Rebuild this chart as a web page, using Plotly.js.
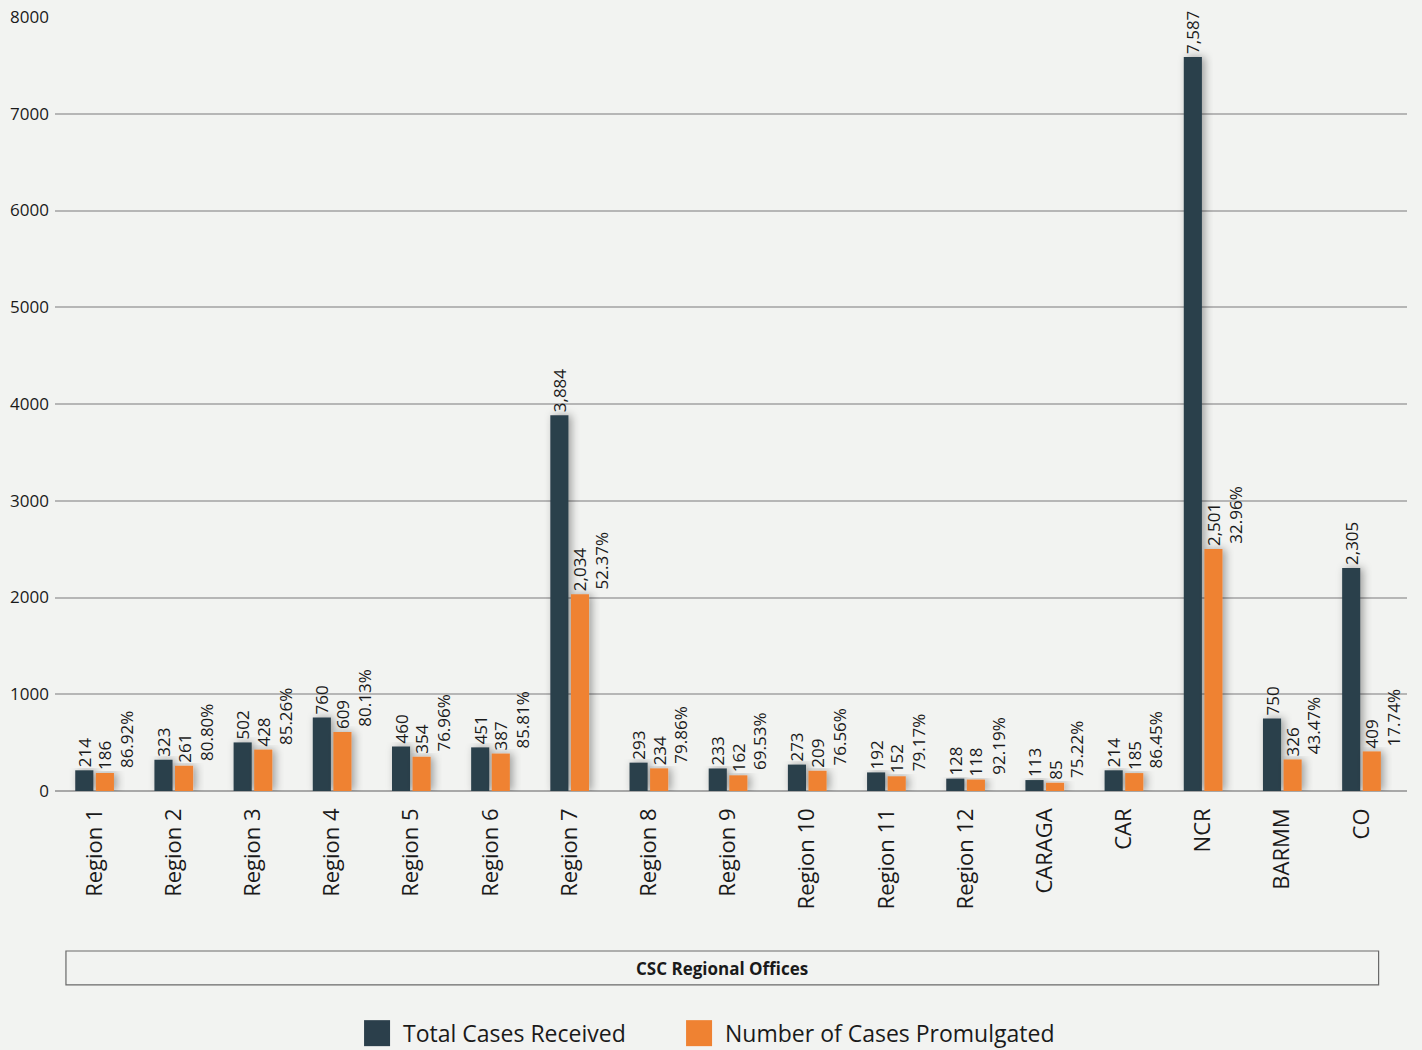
<!DOCTYPE html>
<html>
<head>
<meta charset="utf-8">
<script src="https://cdn.plot.ly/plotly-3.0.1.min.js"></script>
<style>
html,body{margin:0;padding:0;background:#f2f3f1;}
#chart{width:1422px;height:1050px;}
</style>
</head>
<body>
<div id="chart"></div>
<script>
var categories = ["Region 1","Region 2","Region 3","Region 4","Region 5","Region 6","Region 7","Region 8","Region 9","Region 10","Region 11","Region 12","CARAGA","CAR","NCR","BARMM","CO"];
var totalCases = [214,323,502,760,460,451,3884,293,233,273,192,128,113,214,7587,750,2305];
var promulgated = [186,261,428,609,354,387,2034,234,162,209,152,118,85,185,2501,326,409];
var percentLabels = ["86.92%","80.80%","85.26%","80.13%","76.96%","85.81%","52.37%","79.86%","69.53%","76.56%","79.17%","92.19%","75.22%","86.45%","32.96%","43.47%","17.74%"];
var yTicks = [0,1000,2000,3000,4000,5000,6000,7000,8000];

var FONT = "Open Sans, Noto Sans, sans-serif";
var fmt = function(v){ return v.toLocaleString("en-US"); };

var traces = [
  {
    type: "bar", name: "Total Cases Received",
    x: categories, y: totalCases,
    text: totalCases.map(fmt), textposition: "outside", textangle: -90,
    constraintext: "none", cliponaxis: false,
    textfont: {family: FONT, size: 17, color: "#1a1a1a"},
    marker: {color: "#2b3f4b"}, hoverinfo: "x+y"
  },
  {
    type: "bar", name: "Number of Cases Promulgated",
    x: categories, y: promulgated,
    text: promulgated.map(fmt), textposition: "outside", textangle: -90,
    constraintext: "none", cliponaxis: false,
    textfont: {family: FONT, size: 17, color: "#1a1a1a"},
    marker: {color: "#ef8232"}, hoverinfo: "x+y"
  }
];

var annotations = categories.map(function(c, i){
  return {
    x: c, y: promulgated[i], xref: "x", yref: "y",
    text: percentLabels[i], textangle: -90, showarrow: false,
    xanchor: "center", yanchor: "bottom", xshift: 32, yshift: 3,
    font: {family: FONT, size: 17, color: "#1a1a1a"}
  };
});
annotations.push({
  x: 0.493, y: -0.2287, xref: "paper", yref: "paper",
  text: "<b>CSC Regional Offices</b>", showarrow: false,
  xanchor: "center", yanchor: "middle",
  font: {family: FONT, size: 17, color: "#1a1a1a"}
});

var layout = {
  width: 1422, height: 1050,
  paper_bgcolor: "#f2f3f1", plot_bgcolor: "#f2f3f1",
  margin: {l: 55, r: 15, t: 17, b: 259},
  barmode: "group", bargap: 0.48, bargroupgap: 0.12,
  font: {family: FONT, color: "#1a1a1a"},
  xaxis: {
    type: "category", tickangle: -90, showgrid: false, zeroline: false,
    showline: false, ticks: "", ticklen: 0, ticklabelstandoff: 12,
    automargin: false,
    tickfont: {family: FONT, size: 22, color: "#1a1a1a"}
  },
  yaxis: {
    range: [0, 8000], tickvals: yTicks, ticktext: yTicks.map(String),
    showgrid: true, gridcolor: "#b6b6b6", gridwidth: 2,
    zeroline: true, zerolinecolor: "#a8a8a8", zerolinewidth: 2,
    showline: false, ticks: "", ticklabelstandoff: 5, automargin: false,
    tickfont: {family: FONT, size: 17, color: "#1a1a1a"}
  },
  showlegend: true,
  legend: {
    orientation: "h", xref: "container", yref: "container",
    x: 0.4916, xanchor: "center", y: 0.016, yanchor: "middle",
    font: {family: FONT, size: 23, color: "#1a1a1a"},
    bgcolor: "rgba(0,0,0,0)", entrywidth: 277, entrywidthmode: "pixels"
  },
  shapes: [{
    type: "rect", xref: "paper", yref: "paper",
    x0: 0.0081, x1: 0.979, y0: -0.2067, y1: -0.2506,
    line: {color: "#6a6a6a", width: 1.2}, fillcolor: "rgba(0,0,0,0)"
  }],
  annotations: annotations
};

Plotly.newPlot("chart", traces, layout, {displayModeBar: false, staticPlot: true}).then(function(gd){
  var svg = gd.querySelector(".main-svg");
  var ns = "http://www.w3.org/2000/svg";
  var defs = document.createElementNS(ns, "defs");
  var f = document.createElementNS(ns, "filter");
  f.setAttribute("id", "barshadow");
  f.setAttribute("x", "-60%"); f.setAttribute("y", "-10%");
  f.setAttribute("width", "220%"); f.setAttribute("height", "120%");
  var ds = document.createElementNS(ns, "feDropShadow");
  ds.setAttribute("dx", "3"); ds.setAttribute("dy", "0");
  ds.setAttribute("stdDeviation", "4");
  ds.setAttribute("flood-color", "#000"); ds.setAttribute("flood-opacity", "0.35");
  f.appendChild(ds); defs.appendChild(f); svg.insertBefore(defs, svg.firstChild);
  gd.querySelectorAll(".bars .point path").forEach(function(p){
    p.style.filter = "url(#barshadow)";
  });
  gd.querySelectorAll(".legend .legendpoints path").forEach(function(p){
    p.setAttribute("d", "M13,13H-13V-13H13Z");
    p.removeAttribute("transform");
  });
  gd.querySelectorAll(".legend .legendtext").forEach(function(t){
    t.setAttribute("x", "26");
  });
  gd.querySelectorAll(".legend [clip-path]").forEach(function(e){
    e.removeAttribute("clip-path");
  });
});
</script>
</body>
</html>
